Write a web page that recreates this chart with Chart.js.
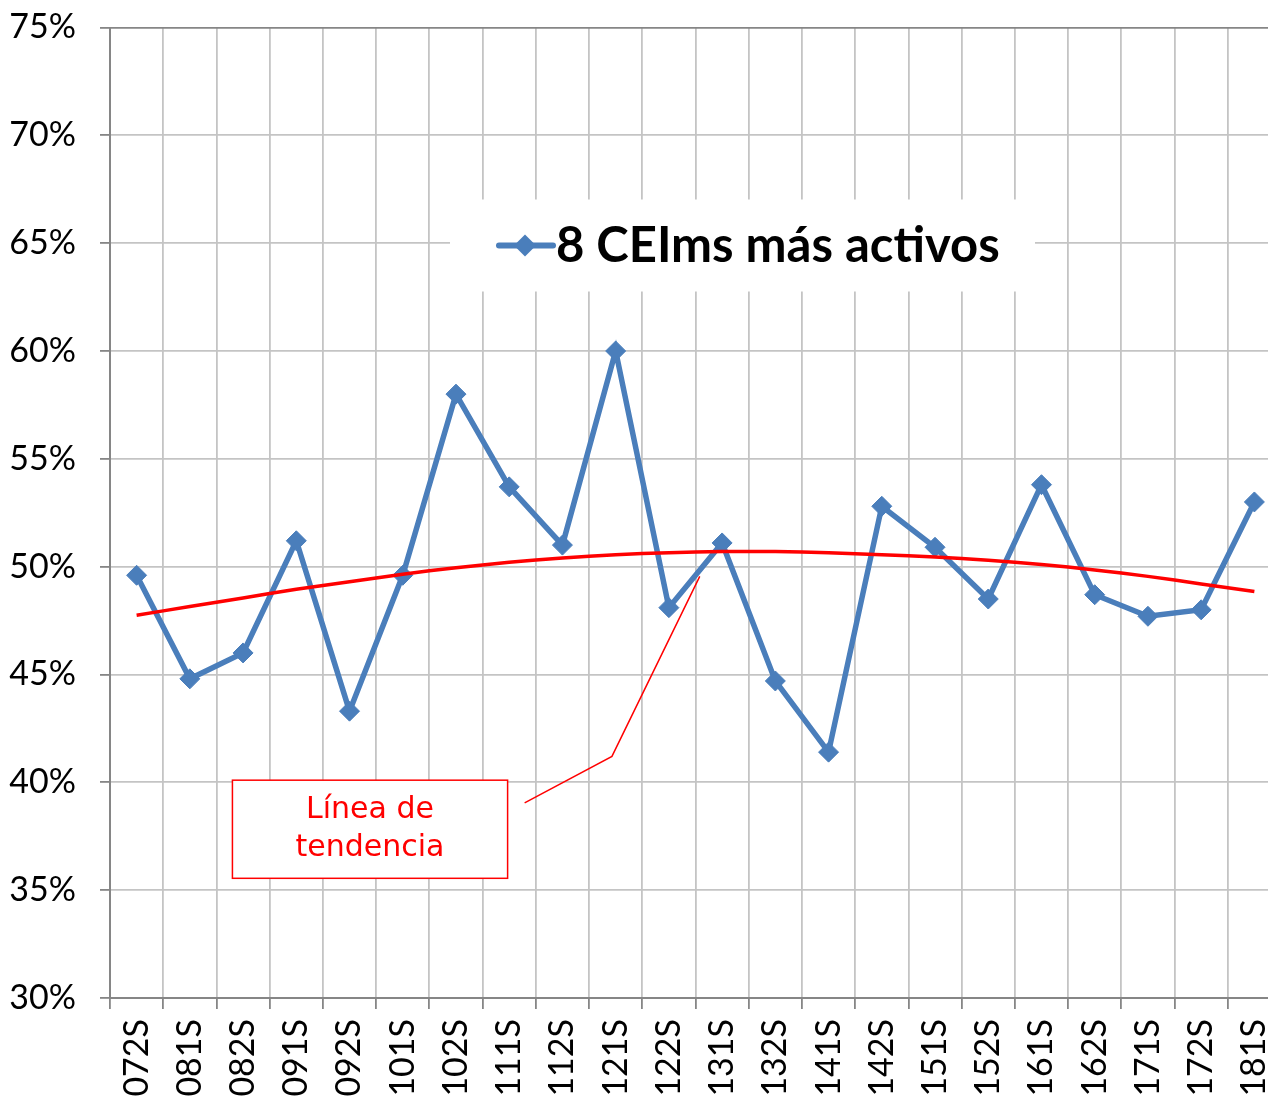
<!DOCTYPE html>
<html>
<head>
<meta charset="utf-8">
<title>8 CEIms más activos</title>
<script src="https://cdn.jsdelivr.net/npm/chart.js@4.4.1/dist/chart.umd.min.js"></script>
<style>
  html, body { margin: 0; padding: 0; background: #fff; overflow: hidden; }
  #wrap { width: 1300px; height: 1099px; }
</style>
</head>
<body>
<div id="wrap"><canvas id="chart" width="1300" height="1099"></canvas></div>
<script>
// semestres (año + semestre)
var semestres = ['072S', '081S', '082S', '091S', '092S', '101S', '102S', '111S', '112S', '121S', '122S',
                 '131S', '132S', '141S', '142S', '151S', '152S', '161S', '162S', '171S', '172S', '181S'];

// % de los 8 CEIms más activos
var activos = [49.6, 44.8, 46.0, 51.2, 43.3, 49.6, 58.0, 53.7, 51.0, 60.0, 48.1,
               51.1, 44.7, 41.4, 52.8, 50.9, 48.5, 53.8, 48.7, 47.7, 48.0, 53.0];

// línea de tendencia (polinómica)
var tendencia = [47.75, 48.15, 48.55, 48.95, 49.3, 49.65, 49.95, 50.2, 50.4, 50.55, 50.65,
                 50.7, 50.7, 50.65, 50.55, 50.45, 50.3, 50.1, 49.85, 49.55, 49.2, 48.85];

var nombreSerie = '8 CEIms más activos';
var yMin = 30, yMax = 75, yPaso = 5;

var AZUL = '#4a7ebb';
var ROJO = '#ff0000';
var GRIS_EJE = '#868686';
var GRIS_REJILLA = '#c4c4c4';

// leyenda dentro del área de trazado, con fondo blanco
var leyenda = {
  id: 'leyenda',
  beforeDatasetsDraw: function (chart) {
    var ctx = chart.ctx, a = chart.chartArea;
    var x = a.left + 340, y = a.top + 172;
    ctx.save();
    ctx.fillStyle = '#fff';
    ctx.fillRect(x, y, 585, 92);
    var cy = y + 46;
    ctx.strokeStyle = AZUL;
    ctx.lineWidth = 6;
    ctx.lineCap = 'round';
    ctx.beginPath();
    ctx.moveTo(x + 49, cy);
    ctx.lineTo(x + 103, cy);
    ctx.stroke();
    ctx.fillStyle = AZUL;
    ctx.beginPath();
    ctx.moveTo(x + 75, cy - 11);
    ctx.lineTo(x + 86, cy);
    ctx.lineTo(x + 75, cy + 11);
    ctx.lineTo(x + 64, cy);
    ctx.closePath();
    ctx.fill();
    ctx.fillStyle = '#000';
    ctx.font = 'bold 49px Lato';
    ctx.textBaseline = 'middle';
    ctx.textAlign = 'left';
    ctx.fillText(nombreSerie, x + 106, cy + 1);
    ctx.restore();
  }
};

// cuadro "Línea de tendencia" con su flecha
var nota = {
  id: 'nota',
  afterDatasetsDraw: function (chart) {
    var ctx = chart.ctx, sx = chart.scales.x, sy = chart.scales.y;
    var x1 = sx.getPixelForValue(1.8), x2 = sx.getPixelForValue(6.97);
    var y1 = sy.getPixelForValue(40.1), y2 = sy.getPixelForValue(35.55);
    ctx.save();
    ctx.fillStyle = '#fff';
    ctx.fillRect(x1, y1, x2 - x1, y2 - y1);
    ctx.strokeStyle = ROJO;
    ctx.lineWidth = 1.5;
    ctx.strokeRect(x1, y1, x2 - x1, y2 - y1);
    ctx.fillStyle = ROJO;
    ctx.font = '30px "DejaVu Sans"';
    ctx.textAlign = 'center';
    ctx.textBaseline = 'middle';
    var cx = (x1 + x2) / 2, cy = (y1 + y2) / 2;
    ctx.fillText('Línea de', cx, cy - 19);
    ctx.fillText('tendencia', cx, cy + 19);
    ctx.beginPath();
    ctx.moveTo(sx.getPixelForValue(7.29), sy.getPixelForValue(39.05));
    ctx.lineTo(sx.getPixelForValue(8.93), sy.getPixelForValue(41.2));
    ctx.lineTo(sx.getPixelForValue(10.58), sy.getPixelForValue(49.55));
    ctx.stroke();
    ctx.restore();
  }
};

new Chart(document.getElementById('chart'), {
  type: 'line',
  data: {
    labels: semestres,
    datasets: [
      {
        label: 'Línea de tendencia',
        data: tendencia,
        borderColor: ROJO,
        borderWidth: 3.5,
        pointRadius: 0,
        tension: 0.3,
        order: 0
      },
      {
        label: nombreSerie,
        data: activos,
        borderColor: AZUL,
        backgroundColor: AZUL,
        borderWidth: 5.5,
        pointStyle: 'rectRot',
        pointRadius: 10,
        pointBorderWidth: 1,
        pointBackgroundColor: AZUL,
        pointBorderColor: AZUL,
        tension: 0,
        order: 1
      }
    ]
  },
  options: {
    responsive: false,
    animation: false,
    layout: { padding: { top: 27.5, right: 19, left: 0, bottom: 0 } },
    plugins: {
      legend: { display: false },
      tooltip: { enabled: false }
    },
    scales: {
      x: {
        offset: true,
        grid: {
          offset: true,
          color: GRIS_REJILLA,
          lineWidth: 1.8,
          tickColor: GRIS_EJE,
          tickLength: 11
        },
        border: { color: GRIS_EJE, width: 2 },
        ticks: {
          color: '#000',
          font: { family: 'Lato', size: 34 },
          minRotation: 90,
          maxRotation: 90,
          padding: 10,
          autoSkip: false
        },
        afterFit: function (scale) {
          scale.height = 101;
          scale.paddingLeft = 0;
          scale.paddingRight = 0;
        }
      },
      y: {
        min: yMin,
        max: yMax,
        grid: {
          color: function (c) { return c.tick && c.tick.value === yMax ? GRIS_EJE : GRIS_REJILLA; },
          lineWidth: 1.8,
          tickColor: GRIS_EJE,
          tickLength: 10
        },
        border: { color: GRIS_EJE, width: 2 },
        ticks: {
          stepSize: yPaso,
          color: '#000',
          font: { family: 'Lato', size: 34 },
          padding: 24,
          callback: function (v) { return v + '%'; }
        },
        afterFit: function (scale) {
          scale.width = 110;
          scale.paddingTop = 0;
          scale.paddingBottom = 0;
        }
      }
    }
  },
  plugins: [leyenda, nota]
});
</script>
</body>
</html>
